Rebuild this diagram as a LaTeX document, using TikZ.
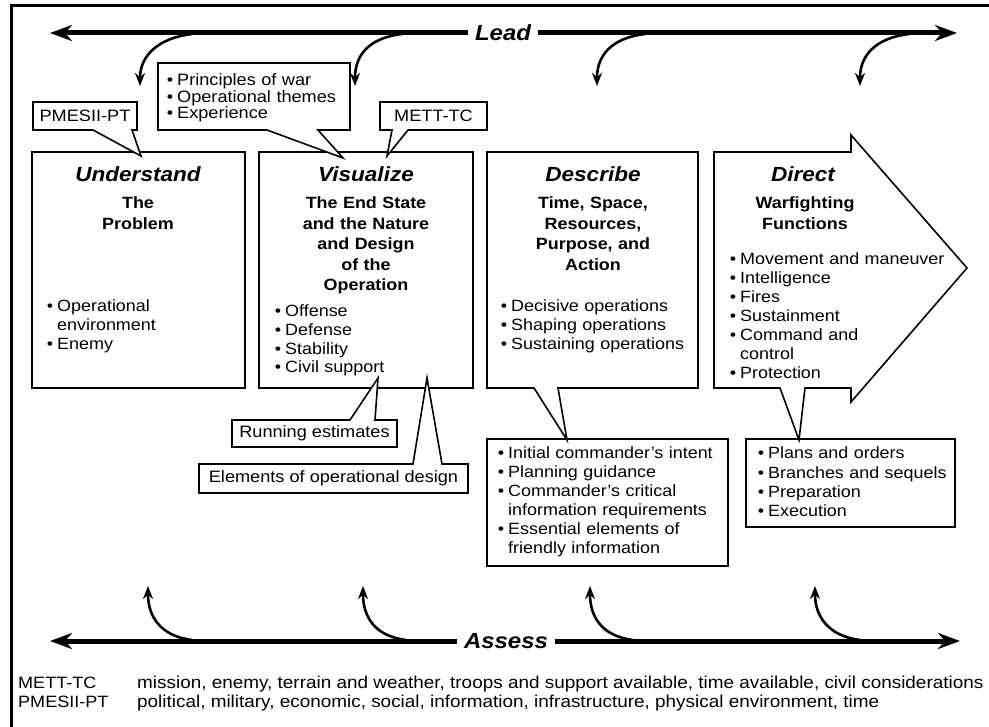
\documentclass[tikz,border=0pt]{standalone}
\usepackage{fontspec}
\setmainfont[FakeStretch=1.1]{Liberation Sans}
\usetikzlibrary{arrows.meta}
\newcommand\bulitem{\leavevmode\llap{•\hspace{4pt}}}
\begin{document}
\begin{tikzpicture}[x=1pt,y=-1pt,
  box/.style={draw, line width=1.6pt, fill=white, line join=miter},
  frame/.style={line width=3pt},
  mainline/.style={line width=5pt, -{Stealth[length=22pt,width=16pt,inset=7pt]}},
  curvy/.style={line width=2.6pt, -{Stealth[length=13pt,width=10pt,inset=4pt]}},
  ttl/.style={font=\fontsize{20.5}{24}\selectfont\bfseries\itshape, anchor=base, inner sep=0pt},
  subt/.style={font=\fontsize{16.3}{20.4}\selectfont\bfseries, align=center, anchor=base, inner sep=0pt, text width=205pt},
  body/.style={font=\fontsize{16.3}{18.6}\selectfont, align=left, anchor=base west, inner sep=0pt, text width=240pt},
  call/.style={font=\fontsize{16.5}{16.5}\selectfont, inner sep=0pt},
  big/.style={font=\fontsize{21.8}{24}\selectfont\bfseries\itshape, inner xsep=7pt, inner ysep=0pt},
  legend/.style={font=\fontsize{16.4}{19}\selectfont, anchor=base west, inner sep=0pt},
  legendd/.style={font=\fontsize{17.2}{19}\selectfont, anchor=base west, inner sep=0pt}
]
\useasboundingbox (0,0) rectangle (989,727);
% frame
\draw[frame] (11,727) -- (11,6) -- (989,6);

% Lead arrow
\node[big] (lead) at (503,33) {Lead};
\coordinate (leadL) at (50,33);
\coordinate (leadR) at (957,33);
\draw[mainline] (lead.west) -- (leadL);
\draw[mainline] (lead.east) -- (leadR);
\coordinate (l1s) at (192,34); \coordinate (l1e) at (140,86);
\coordinate (l2s) at (402,34); \coordinate (l2e) at (355,86);
\coordinate (l3s) at (645,34); \coordinate (l3e) at (597,86);
\coordinate (l4s) at (909,34); \coordinate (l4e) at (860,86);
\foreach \s/\e in {l1s/l1e,l2s/l2e,l3s/l3e,l4s/l4e}{
  \draw[curvy] (\s) .. controls ([xshift=-34pt,yshift=-4pt]\s) and ([yshift=30pt]\e) .. (\e);
}

% Assess arrow
\node[big] (assess) at (506,641) {Assess};
\coordinate (assL) at (50,641);
\coordinate (assR) at (960,641);
\draw[mainline] (assess.west) -- (assL);
\draw[mainline] (assess.east) -- (assR);
\coordinate (a1s) at (192,640); \coordinate (a1e) at (148,586);
\coordinate (a2s) at (406,640); \coordinate (a2e) at (363,586);
\coordinate (a3s) at (633,640); \coordinate (a3e) at (590,586);
\coordinate (a4s) at (860,640); \coordinate (a4e) at (815,586);
\foreach \s/\e in {a1s/a1e,a2s/a2e,a3s/a3e,a4s/a4e}{
  \draw[curvy] (\s) .. controls ([xshift=-32pt,yshift=4pt]\s) and ([yshift=-30pt]\e) .. (\e);
}

% main boxes
\draw[box] (32,152) rectangle (245,388);
\draw[box] (259,152) rectangle (473,388);
\draw[box] (487,439) rectangle (728,566);
\draw[box] (746,439) rectangle (955,527);
\draw[box] (487,152) -- (698,152) -- (698,388) -- (558,388) -- (567,440) -- (534,388) -- (487,388) -- cycle;
\draw[box] (714,152) -- (851,152) -- (851,135) -- (967,268) -- (851,402) -- (851,388) -- (805,388) -- (799,440) -- (780,388) -- (714,388) -- cycle;

% callouts
\draw[box] (33,102) -- (137,102) -- (137,130) -- (132,130) -- (141,156) -- (93,130) -- (33,130) -- cycle;
\draw[box] (158,63) -- (350,63) -- (350,130) -- (318,130) -- (343,158) -- (267,130) -- (158,130) -- cycle;
\draw[box] (380,102) -- (487,102) -- (487,130) -- (408,130) -- (387,156) -- (392,130) -- (380,130) -- cycle;
\draw[box] (232,420) -- (350,420) -- (378,378) -- (375,420) -- (397,420) -- (397,447) -- (232,447) -- cycle;
\draw[box] (199,464) -- (413,464) -- (427,378) -- (442,464) -- (468,464) -- (468,493) -- (199,493) -- cycle;

\node[call] (pmesii) at (85,116) {PMESII-PT};
\node[call] (mettc) at (433.5,116) {METT-TC};
\node[call, anchor=base west, align=left, text width=180pt] (princ) at (177,86) {\bulitem Principles of war\\\bulitem Operational themes\\\bulitem Experience};
\node[call] (runest) at (314.5,433.5) {Running estimates};
\node[call] (elem) at (333.5,478.5) {Elements of operational design};

% Understand
\node[ttl] (tU) at (138,182) {Understand};
\node[subt] (sU) at (138,209) {The\\Problem};
\node[body] (bU) at (57,312) {\bulitem Operational\\environment\\\bulitem Enemy};

% Visualize
\node[ttl] (tV) at (366,182) {Visualize};
\node[subt] (sV) at (366,209) {The End State\\and the Nature\\and Design\\of the\\Operation};
\node[body] (bV) at (285,317) {\bulitem Offense\\\bulitem Defense\\\bulitem Stability\\\bulitem Civil support};

% Describe
\node[ttl] (tD) at (593,182) {Describe};
\node[subt] (sD) at (593,209) {Time, Space,\\Resources,\\Purpose, and\\Action};
\node[body] (bD) at (511,312) {\bulitem Decisive operations\\\bulitem Shaping operations\\\bulitem Sustaining operations};

% Direct
\node[ttl] (tR) at (803,182) {Direct};
\node[subt] (sR) at (805,209) {Warfighting\\Functions};
\node[body, font=\fontsize{16.3}{19}\selectfont] (bR) at (740,265) {\bulitem Movement and maneuver\\\bulitem Intelligence\\\bulitem Fires\\\bulitem Sustainment\\\bulitem Command and\\control\\\bulitem Protection};

% lower boxes
\node[body, font=\fontsize{16.3}{19}\selectfont] (bI) at (508,459) {\bulitem Initial commander's intent\\\bulitem Planning guidance\\\bulitem Commander's critical\\information requirements\\\bulitem Essential elements of\\friendly information};
\node[body, font=\fontsize{16.3}{19.3}\selectfont] (bP) at (768,459) {\bulitem Plans and orders\\\bulitem Branches and sequels\\\bulitem Preparation\\\bulitem Execution};

% legend
\node[legend] (lg1) at (18,688) {METT-TC};
\node[legendd] (lg1d) at (137,688) {mission, enemy, terrain and weather, troops and support available, time available, civil considerations};
\node[legend] (lg2) at (18,707) {PMESII-PT};
\node[legendd] (lg2d) at (137,707) {political, military, economic, social, information, infrastructure, physical environment, time};
\end{tikzpicture}
\end{document}
